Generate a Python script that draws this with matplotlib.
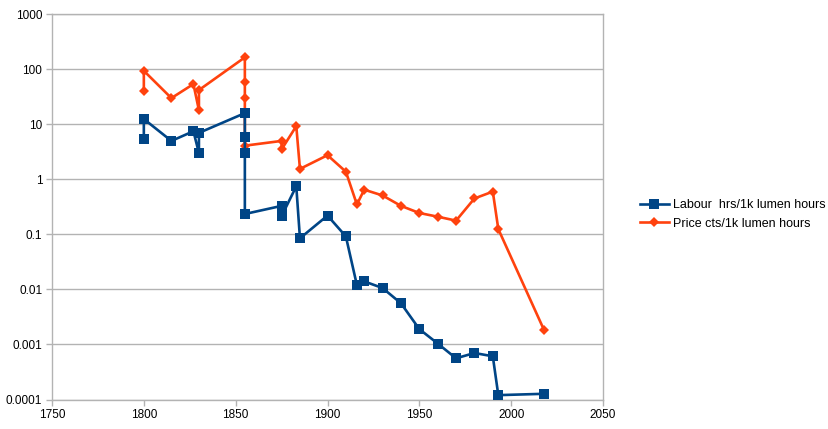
import matplotlib
matplotlib.use("Agg")
import matplotlib.pyplot as plt
from matplotlib.ticker import FixedLocator, FuncFormatter, NullLocator

# data
years = [1800, 1800, 1815, 1827, 1830, 1830, 1855, 1855, 1855, 1855,
         1875, 1875, 1883, 1885, 1900, 1910, 1916, 1920, 1930, 1940,
         1950, 1960, 1970, 1980, 1990, 1993, 2018]
labour = [5.5, 12.5, 5.0, 7.5, 3.0, 7.0, 16, 6.0, 3.0, 0.235,
          0.33, 0.215, 0.75, 0.085, 0.22, 0.092, 0.012, 0.014, 0.0106, 0.0056,
          0.0019, 0.00104, 0.00056, 0.0007, 0.00061, 0.00012, 0.000127]
price = [41, 94, 30, 54, 18, 42, 165, 60, 30, 4.1,
         5.0, 3.5, 9.3, 1.55, 2.75, 1.38, 0.35, 0.65, 0.51, 0.33,
         0.245, 0.21, 0.178, 0.45, 0.6, 0.125, 0.0018]

labour_label = "Labour  hrs/1k lumen hours"
price_label = "Price cts/1k lumen hours"
y_ticks = [1000, 100, 10, 1, 0.1, 0.01, 0.001, 0.0001]
x_ticks = [1750, 1800, 1850, 1900, 1950, 2000, 2050]

BLUE = "#004586"
ORANGE = "#ff420e"
GRID = "#b3b3b3"

plt.rcParams["font.family"] = ["Liberation Sans", "DejaVu Sans"]

fig = plt.figure(figsize=(8.29, 4.29), dpi=100)
ax = fig.add_axes([52 / 829, 1 - 399.5 / 429, 551 / 829, 385.2 / 429])

p_line, = ax.plot(years, price, color=ORANGE, lw=1.9, marker="D",
                  markersize=5, markeredgewidth=0, zorder=3, label=price_label)
l_line, = ax.plot(years, labour, color=BLUE, lw=1.9, marker="s",
                  markersize=6.5, markeredgewidth=0, zorder=4, label=labour_label)

ax.set_yscale("log")
ax.set_ylim(0.0001, 1000)
ax.set_xlim(1750, 2050)
ax.yaxis.set_major_locator(FixedLocator(y_ticks))
ax.yaxis.set_minor_locator(NullLocator())
ax.yaxis.set_major_formatter(FuncFormatter(lambda v, p: "%g" % v))
ax.xaxis.set_major_locator(FixedLocator(x_ticks))

ax.grid(axis="y", color=GRID, lw=1)
ax.set_axisbelow(True)
for s in ax.spines.values():
    s.set_color(GRID)
    s.set_linewidth(1)
ax.tick_params(axis="both", colors=GRID, labelcolor="black", labelsize=8.5,
               length=4, width=1, pad=3)

fig.legend([l_line, p_line], [labour_label, price_label],
           loc="center left", bbox_to_anchor=(640 / 829, 1 - 214.5 / 429),
           frameon=False, fontsize=9, borderpad=0, borderaxespad=0,
           handlelength=2.3, handletextpad=0.35, labelspacing=0.5)

fig.savefig("out.png", dpi=100)
